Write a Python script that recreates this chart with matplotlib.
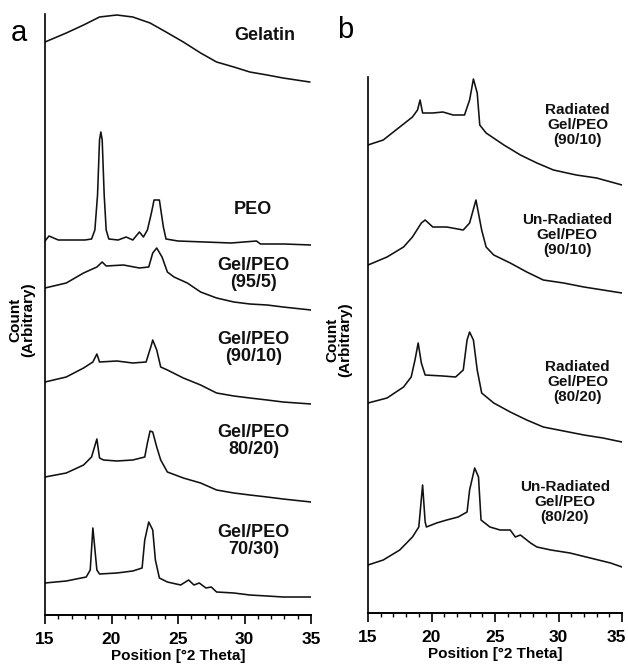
import matplotlib
matplotlib.use("Agg")
import matplotlib.pyplot as plt
from matplotlib.ticker import MultipleLocator
from matplotlib.transforms import ScaledTranslation

W, H = 628, 668
FONT = "Liberation Sans"

# ---------------- panel a data (2-theta in degrees, arbitrary counts) ----------------
gelatin_x = [15, 16.6, 17.9, 19.1, 20.4, 21.6, 22.9, 24.1, 25.4, 26.7, 27.9, 29.2, 30.4, 31.7, 32.9, 34.9]
gelatin_y = [573, 582, 590, 598, 600, 598, 592, 583, 573, 562, 553, 548, 543, 540, 537, 533]

peo_x = [15, 15.3, 16, 17, 18, 18.5, 18.75, 18.95, 19.1, 19.2, 19.3, 19.45, 19.6, 19.8, 20.5, 21.1, 21.6,
         22.1, 22.4, 22.7, 23.0, 23.2, 23.6, 23.9, 24.1, 25, 27, 29, 30.9, 31.2, 33, 35]
peo_y = [374, 379, 375, 375, 375, 376, 385, 420, 475, 483, 475, 420, 385, 376, 375, 378, 375,
         383, 378, 385, 402, 415, 415, 388, 376, 374, 373, 372, 374, 371, 371, 370]

g95_x = [15, 16.6, 17.9, 18.9, 19.3, 19.6, 20.9, 22.1, 22.8, 23.1, 23.4, 23.8, 24.2, 24.7, 25.7, 26.7,
         27.9, 29.2, 30.4, 31.7, 32.9, 35]
g95_y = [327, 332, 342, 348, 353, 349, 350, 347, 348, 362, 367, 358, 343, 338, 332, 323,
         317, 313, 311, 310, 308, 305]

g90_x = [15, 16.6, 17.9, 18.6, 18.9, 19.1, 20.4, 21.6, 22.6, 23.0, 23.1, 23.4, 23.7, 24.2, 25.4, 26.7,
         27.9, 29.2, 30.4, 31.7, 32.9, 35]
g90_y = [233, 238, 247, 253, 261, 253, 254, 252, 253, 270, 275, 265, 248, 245, 237, 230,
         222, 219, 217, 215, 213, 211]

g80_x = [15, 16.6, 17.9, 18.5, 18.9, 19.1, 19.4, 20.4, 21.6, 22.5, 22.7, 22.9, 23.1, 23.4, 23.7, 24.2,
         25.4, 26.7, 27.9, 29.2, 30.4, 31.7, 32.9, 35]
g80_y = [138, 142, 150, 158, 176, 157, 155, 154, 155, 158, 172, 184, 183, 168, 155, 143,
         137, 132, 125, 122, 120, 118, 116, 113]

g70_x = [15, 16.6, 18.1, 18.4, 18.6, 18.9, 19.1, 20.4, 21.6, 22.3, 22.5, 22.8, 23.1, 23.3, 23.6, 24.2,
         25.2, 25.8, 26.2, 26.6, 27.1, 27.5, 27.9, 29.2, 30.4, 31.7, 32.9, 35]
g70_y = [32, 34, 38, 45, 87, 45, 41, 42, 44, 47, 75, 93, 85, 55, 37, 33,
         30, 35, 30, 32, 27, 28, 23, 22, 20, 19, 18, 18]

labels_a = ["Gelatin", "PEO", "Gel/PEO\n(95/5)", "Gel/PEO\n(90/10)", "Gel/PEO\n80/20)", "Gel/PEO\n70/30)"]
labels_a_x = [31.5, 30.6, 30.7, 30.7, 30.7, 30.7]
labels_a_y = [580, 405, 341, 267, 174, 74]

# ---------------- panel b data ----------------
r90_x = [15, 16.2, 17.4, 18.5, 18.9, 19.1, 19.3, 20.1, 20.9, 21.7, 22.6, 23.0, 23.3, 23.6, 23.8, 24.3,
         25.7, 27.0, 28.3, 29.6, 31.4, 33.0, 35]
r90_y = [468, 473, 485, 496, 503, 513, 500, 500, 501, 498, 498, 513, 534, 520, 488, 480,
         468, 458, 450, 443, 438, 435, 428]

u90_x = [15, 16.5, 17.8, 18.5, 19.2, 19.5, 20.1, 21.2, 22.5, 23.0, 23.5, 23.95, 24.3, 24.9, 26.2, 27.5,
         28.8, 30.4, 32.0, 33.5, 35]
u90_y = [348, 356, 366, 376, 390, 393, 386, 386, 383, 390, 413, 383, 366, 358, 350, 341,
         333, 330, 326, 323, 320]

r80_x = [15, 16.5, 17.8, 18.4, 18.7, 18.95, 19.2, 19.5, 20.9, 21.9, 22.5, 22.8, 23.0, 23.3, 23.6, 23.95,
         24.9, 26.2, 27.5, 28.8, 30.4, 32.0, 33.5, 35]
r80_y = [210, 215, 226, 236, 253, 270, 250, 238, 237, 236, 243, 273, 281, 273, 243, 220,
         210, 201, 193, 186, 182, 178, 175, 171]

u80_x = [15, 16.2, 17.5, 18.5, 19.0, 19.3, 19.5, 19.6, 20.4, 21.2, 22.1, 22.8, 23.0, 23.4, 23.7, 23.9,
         24.6, 25.4, 26.2, 26.6, 27.0, 27.8, 28.3, 29.4, 30.9, 32.5, 34.1, 35]
u80_y = [48, 53, 63, 76, 86, 128, 91, 86, 90, 93, 96, 101, 123, 145, 136, 93,
         86, 83, 83, 76, 78, 70, 66, 63, 60, 55, 50, 46]

labels_b = ["Radiated\nGel/PEO\n(90/10)", "Un-Radiated\nGel/PEO\n(90/10)",
            "Radiated\nGel/PEO\n(80/20)", "Un-Radiated\nGel/PEO\n(80/20)"]
labels_b_x = [31.5, 30.7, 31.5, 30.5]
labels_b_y = [488, 378, 231, 111]

xticks = [15, 20, 25, 30, 35]
xlabel = "Position [°2 Theta]"
ylabel = "Count\n(Arbitrary)"

# ---------------- figure ----------------
fig = plt.figure(figsize=(W / 100, H / 100), dpi=100)
fig.patch.set_facecolor("white")


def px_axes(l, r, t, b):
    return fig.add_axes([l / W, 1 - b / H, (r - l) / W, (b - t) / H])


axa = px_axes(45, 311, 14, 615)
axb = px_axes(368, 622, 77, 613)

line_kw = dict(color="#111111", lw=1.15, solid_joinstyle="round")

for xs, ys in [(gelatin_x, gelatin_y), (peo_x, peo_y), (g95_x, g95_y),
               (g90_x, g90_y), (g80_x, g80_y), (g70_x, g70_y)]:
    axa.plot(xs, ys, **line_kw)
for t, x, y in zip(labels_a, labels_a_x, labels_a_y):
    axa.text(x, y, t, ha="center", va="center", fontsize=13, fontweight="bold",
             family=FONT, linespacing=1.02, color="#111111")

for xs, ys in [(r90_x, r90_y), (u90_x, u90_y), (r80_x, r80_y), (u80_x, u80_y)]:
    axb.plot(xs, ys, **line_kw)
for t, x, y in zip(labels_b, labels_b_x, labels_b_y):
    axb.text(x, y, t, ha="center", va="center", fontsize=11, fontweight="bold",
             family=FONT, linespacing=1.1, color="#111111")

axa.set_ylim(0, 601)
axb.set_ylim(0, 536)

for ax in (axa, axb):
    ax.set_xlim(15, 35)
    ax.set_xticks(xticks)
    ax.xaxis.set_minor_locator(MultipleLocator(1))
    ax.set_yticks([])
    ax.spines["top"].set_visible(False)
    ax.spines["right"].set_visible(False)
    ax.spines["left"].set_linewidth(1.2)
    ax.spines["bottom"].set_linewidth(1.4)
    ax.tick_params(axis="x", which="major", direction="out", length=6.5, width=1.2, pad=6)
    ax.tick_params(axis="x", which="minor", direction="out", length=3, width=1.0)
    for lab in ax.get_xticklabels():
        lab.set_fontfamily(FONT)
        lab.set_fontweight("bold")
        lab.set_fontsize(12.5)
    ax.set_xlabel(xlabel, fontsize=11, fontweight="bold", family=FONT, labelpad=1)
    ax.set_facecolor("none")

# keep the last tick label of panel b inside the figure
last = axb.get_xticklabels()[-1]
last.set_transform(last.get_transform() + ScaledTranslation(-6 / 100, 0, fig.dpi_scale_trans))

# y labels and panel letters
fig.text(22 / W, 1 - 320 / H, ylabel, rotation=90, ha="center", va="center",
         fontsize=11, fontweight="bold", family=FONT, linespacing=0.95)
fig.text(339 / W, 1 - 340 / H, ylabel, rotation=90, ha="center", va="center",
         fontsize=11, fontweight="bold", family=FONT, linespacing=0.95)
fig.text(19 / W, 1 - 33 / H, "a", ha="center", va="center", fontsize=21, family=FONT)
fig.text(345 / W, 1 - 30 / H, "b", ha="center", va="center", fontsize=21, family=FONT)

fig.savefig("out.png", dpi=100, facecolor="white")
